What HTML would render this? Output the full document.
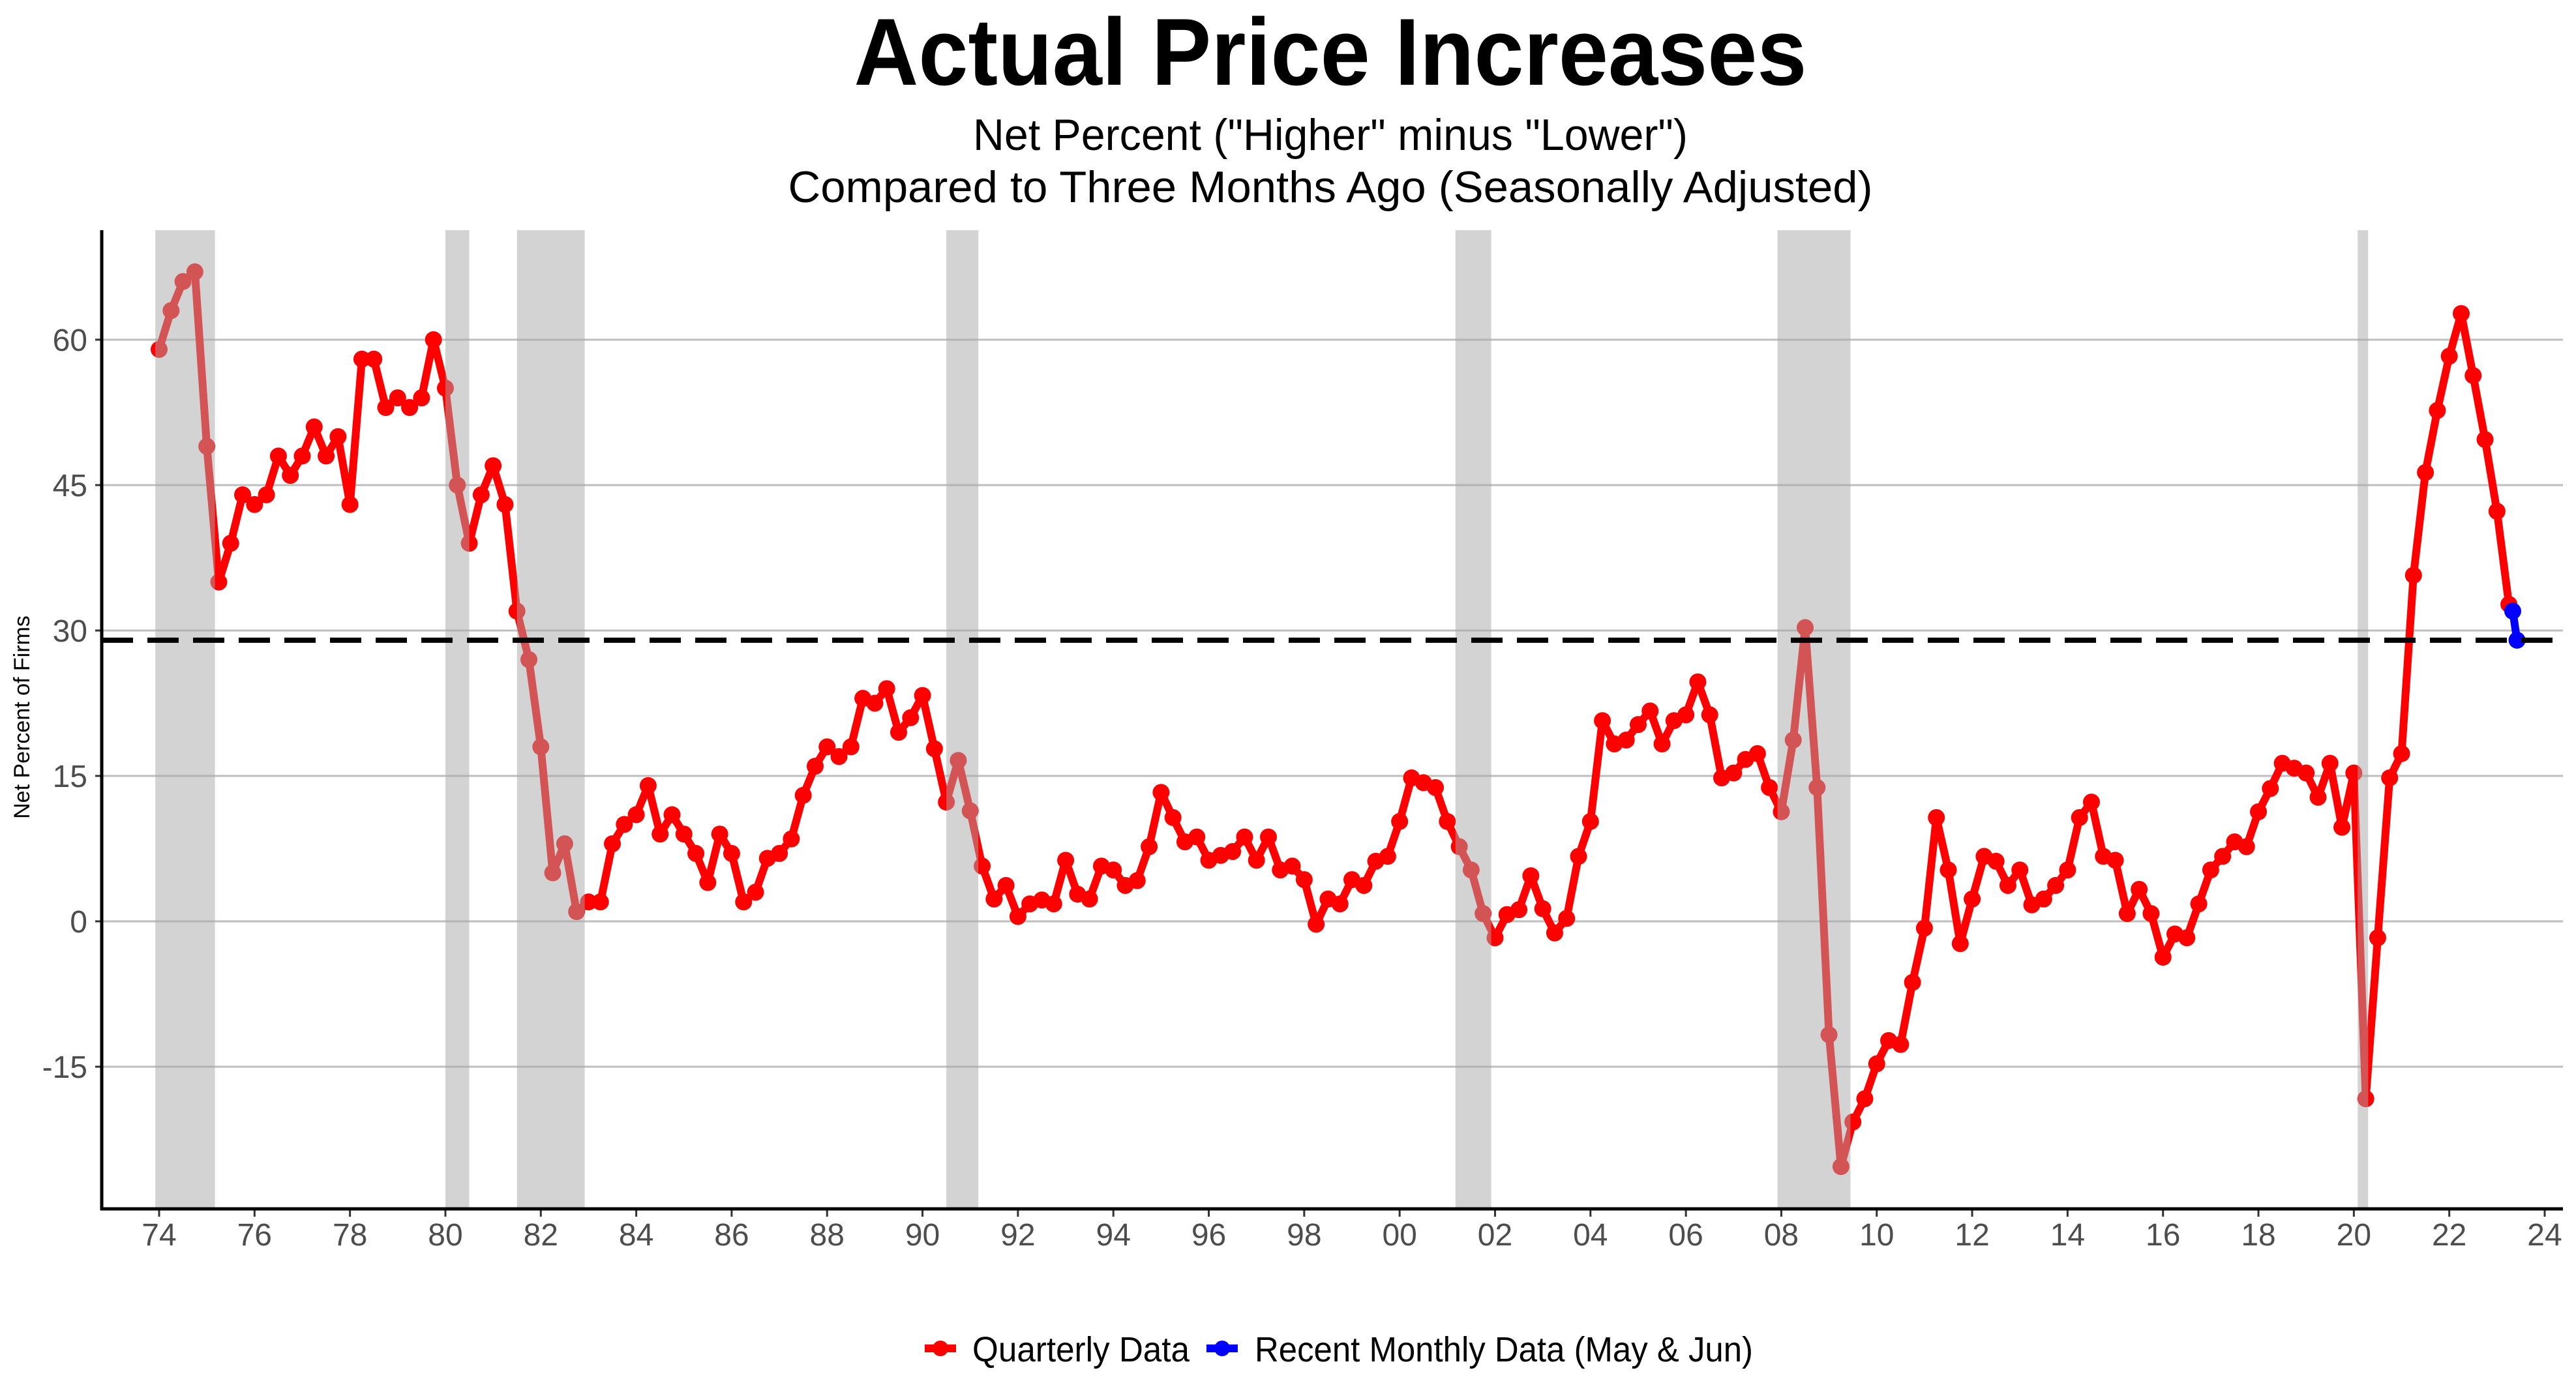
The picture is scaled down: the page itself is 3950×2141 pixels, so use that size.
<!DOCTYPE html>
<html><head><meta charset="utf-8"><style>
html,body{margin:0;padding:0;background:#fff;}
svg{display:block;font-family:"Liberation Sans",Arial,sans-serif;}
</style></head><body>
<svg id="chart" width="3950" height="2141" viewBox="0 0 3950 2141">
<text x="2040" y="130" text-anchor="middle" font-size="146" font-weight="bold" textLength="1461" lengthAdjust="spacingAndGlyphs">Actual Price Increases</text>
<text x="2040" y="230" text-anchor="middle" font-size="68" textLength="1096" lengthAdjust="spacingAndGlyphs">Net Percent ("Higher" minus "Lower")</text>
<text x="2040" y="310" text-anchor="middle" font-size="68" textLength="1663" lengthAdjust="spacingAndGlyphs">Compared to Three Months Ago (Seasonally Adjusted)</text>
<text transform="translate(45,1100) rotate(-90)" text-anchor="middle" font-size="34">Net Percent of Firms</text>
<g id="grid"></g><g id="series"></g><g id="rec"></g><g id="axes"></g>
<g>
<g>
<line x1="1418" y1="2068" x2="1466" y2="2068" stroke="#ff0000" stroke-width="12"/>
<circle cx="1442" cy="2068" r="12" fill="#ff0000"/>
<text x="1491" y="2088" font-size="54" textLength="333" lengthAdjust="spacingAndGlyphs">Quarterly Data</text>
</g>
<g>
<line x1="1850" y1="2068" x2="1898" y2="2068" stroke="#0000ff" stroke-width="12"/>
<circle cx="1874" cy="2068" r="12" fill="#0000ff"/>
<text x="1924" y="2088" font-size="54" textLength="764" lengthAdjust="spacingAndGlyphs">Recent Monthly Data (May &amp; Jun)</text>
</g>
</g>
</svg>
<script>
const startYear = 1974;
const quarterly = [
59,63,66,67, 49,35,39,44, 43,44,48,46, 48,51,48,50, 43,58,58,53, 54,53,54,60,
55,45,39,44, 47,43,32,27, 18,5,8,1, 2,2,8,10, 11,14,9,11, 9,7,4,9,
7,2,3,6.5, 7,8.5,13,16, 18,17,18,23, 22.5,24,19.5,21, 23.3,17.8,12.3,16.6,
11.4,5.7,2.3,3.7, 0.5,1.8,2.2,1.8, 6.3,2.8,2.3,5.7, 5.3,3.7,4.2,7.7,
13.3,10.7,8.2,8.7, 6.3,6.8,7.2,8.7, 6.3,8.7,5.3,5.7, 4.3,-0.3,2.3,1.8,
4.3,3.7,6.2,6.7, 10.3,14.8,14.3,13.8, 10.3,7.7,5.3,0.8, -1.7,0.7,1.2,4.7,
1.3,-1.2,0.3,6.7, 10.3,20.7,18.3,18.7, 20.3,21.7,18.3,20.7, 21.3,24.7,21.3,14.8,
15.3,16.7,17.3,13.8, 11.3,18.7,30.3,13.8, -11.7,-25.3,-20.7,-18.3, -14.7,-12.3,-12.7,-6.3,
-0.7,10.7,5.3,-2.3, 2.3,6.7,6.2,3.7, 5.3,1.7,2.3,3.7, 5.3,10.7,12.3,6.7,
6.3,0.8,3.3,0.8, -3.7,-1.3,-1.7,1.8, 5.3,6.7,8.2,7.7, 11.3,13.7,16.3,15.8,
15.3,12.8,16.3,9.7, 15.3,-18.3,-1.7,14.8, 17.3,35.7,46.3,52.7, 58.3,62.7,56.3,49.7,
42.3,32.7];
const monthlyDates = [2023.33, 2023.42];
const monthlyValues = [32, 29];
const avgLine = 29;
const recessionStarts = [1973.92,1980.0,1981.5,1990.5,2001.17,2007.92,2020.08];
const recessionEnds = [1975.17,1980.5,1982.92,1991.17,2001.92,2009.45,2020.3];
const yTicks = [-15,0,15,30,45,60];
const yTickLabels = ["-15","0","15","30","45","60"];
const xTicks = [1974,1976,1978,1980,1982,1984,1986,1988,1990,1992,1994,1996,1998,2000,2002,2004,2006,2008,2010,2012,2014,2016,2018,2020,2022,2024];
const xTickLabels = ["74","76","78","80","82","84","86","88","90","92","94","96","98","00","02","04","06","08","10","12","14","16","18","20","22","24"];

const NS="http://www.w3.org/2000/svg";
const L=156,R=3930,T=353,B=1854;
const x=yr=>244+(yr-1974)*73.16;
const y=v=>1413-v*14.867;
function mk(tag,attrs,parent){const e=document.createElementNS(NS,tag);for(const k in attrs)e.setAttribute(k,attrs[k]);parent.appendChild(e);return e;}
const grid=document.getElementById('grid'),series=document.getElementById('series'),rec=document.getElementById('rec'),axes=document.getElementById('axes');

yTicks.forEach((v,i)=>{
  const g=mk('line',{x1:L,x2:R,y1:y(v),y2:y(v),stroke:'#bebebe','stroke-width':3},grid);
  
  
  const tk=mk('line',{x1:L-10,x2:L,y1:y(v),y2:y(v),stroke:'#333','stroke-width':3},axes);
  
  
  const t=mk('text',{x:L-22,y:y(v)+17,'text-anchor':'end','font-size':48,fill:'#4d4d4d'},axes);
  t.textContent=yTickLabels[i];
  
  
});
xTicks.forEach((yr,i)=>{
  const tk=mk('line',{x1:x(yr),x2:x(yr),y1:B,y2:B+12,stroke:'#333','stroke-width':3},axes);
  
  
  const t=mk('text',{x:x(yr),y:B+56,'text-anchor':'middle','font-size':48,fill:'#4d4d4d'},axes);
  t.textContent=xTickLabels[i];
  
  
});

const pts=quarterly.map((v,i)=>[x(startYear+i/4),y(v)]);
const pl=mk('polyline',{points:pts.map(p=>p.join(',')).join(' '),fill:'none',stroke:'#ff0000','stroke-width':12,'stroke-linejoin':'round'},series);


pts.forEach(p=>{
  const c=mk('circle',{cx:p[0],cy:p[1],r:13,fill:'#ff0000'},series);
  
  
});
const mp=monthlyDates.map((d,i)=>[x(d),y(monthlyValues[i])]);
const ml=mk('polyline',{points:mp.map(p=>p.join(',')).join(' '),fill:'none',stroke:'#0000ff','stroke-width':12},series);


mp.forEach(p=>{
  const c=mk('circle',{cx:p[0],cy:p[1],r:13,fill:'#0000ff'},series);
  
  
});
recessionStarts.forEach((s,i)=>{
  const r=mk('rect',{x:x(s),y:T,width:x(recessionEnds[i])-x(s),height:B-T,fill:'#a8a8a8','fill-opacity':0.5},rec);
  
  
});
const d=mk('line',{x1:L,x2:R,y1:y(avgLine),y2:y(avgLine),stroke:'#000','stroke-width':8,'stroke-dasharray':'48 22'},rec);


const ya=mk('line',{x1:L,x2:L,y1:T,y2:B+2,stroke:'#000','stroke-width':5},axes);


const xa=mk('line',{x1:L-2,x2:R,y1:B,y2:B,stroke:'#000','stroke-width':5},axes);


</script>
</body></html>
